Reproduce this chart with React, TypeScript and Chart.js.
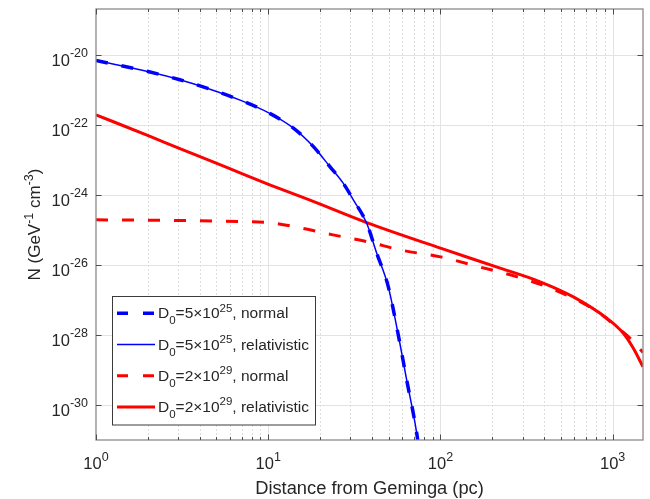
import React, { useEffect, useRef } from 'react';
import { Chart, registerables } from 'chart.js';

Chart.register(...registerables);

// ---- data ----
const blueX = [1, 2.06, 3.07, 4.59, 6.86, 10.2, 14.0, 18.3, 22.8, 27.3, 31.2, 37.3, 42.7, 49.6, 56.7, 63.7, 72.8, 76];
const blueN = [6.92e-21, 3.24e-21, 1.95e-21, 1.05e-21, 5.13e-22, 2.14e-22, 8.13e-23, 2.4e-23, 6.46e-24, 2.14e-24, 7.24e-25, 1.55e-25, 2.14e-26, 2.57e-27, 1.1e-28, 5.13e-30, 1.58e-31, 3.16e-32];

const redRelX = [1, 2.06, 3.07, 4.59, 6.86, 10.2, 17.5, 37.3, 100, 222, 379, 591, 925, 1153, 1318, 1500];
const redRelN = [1.95e-22, 4.68e-23, 2.09e-23, 9.55e-24, 4.27e-24, 1.95e-24, 7.08e-25, 1.62e-25, 3.02e-26, 8.13e-27, 3.31e-27, 1.23e-27, 3.02e-28, 1.12e-28, 4.17e-29, 1.23e-29];

const redNormX = [1, 3, 6.86, 10.2, 15.3, 23.8, 38, 58.3, 100, 170, 279, 433, 673, 850, 1061, 1300, 1500];
const redNormN = [1.95e-25, 1.86e-25, 1.74e-25, 1.62e-25, 1.15e-25, 7.24e-26, 4.57e-26, 2.69e-26, 1.7e-26, 8.71e-27, 4.57e-27, 2.19e-27, 8.13e-28, 3.98e-28, 1.66e-28, 7.08e-29, 3.16e-29];

const xMajorTicks = [1, 10, 100, 1000];
const xTickExp = ['0', '1', '2', '3'];
const yMajorTicks = [1e-20, 1e-22, 1e-24, 1e-26, 1e-28, 1e-30];
const yTickExp = ['-20', '-22', '-24', '-26', '-28', '-30'];

const X_MIN = 1;
const X_MAX = 1500;
const Y_MIN = 1e-31;
const Y_MAX = 2.05e-19;

const BLUE = '#0000ff';
const RED = '#ff0000';
const TEXT = '#262626';
const FONT = '"Liberation Sans", Arial, Helvetica, sans-serif';

type Part = [string, number]; // 0 normal, 1 sup, -1 sub

const legendItems: { parts: Part[]; color: string; width: number; dash: number[] }[] = [
  { parts: [['D', 0], ['0', -1], ['=5×10', 0], ['25', 1], [', normal', 0]], color: BLUE, width: 3.5, dash: [11, 15] },
  { parts: [['D', 0], ['0', -1], ['=5×10', 0], ['25', 1], [', relativistic', 0]], color: BLUE, width: 1.5, dash: [] },
  { parts: [['D', 0], ['0', -1], ['=2×10', 0], ['29', 1], [', normal', 0]], color: RED, width: 3, dash: [11, 15] },
  { parts: [['D', 0], ['0', -1], ['=2×10', 0], ['29', 1], [', relativistic', 0]], color: RED, width: 3, dash: [] },
];

function toPts(xs: number[], ys: number[]) {
  return xs.map((x, i) => ({ x, y: ys[i] }));
}

function rich(
  ctx: CanvasRenderingContext2D,
  parts: Part[],
  x: number,
  y: number,
  align: 'left' | 'center' | 'right',
  size: number,
  small: number,
  supOff: number,
  subOff: number
) {
  const f = (s: number) => `${s}px ${FONT}`;
  const widths = parts.map(([t, k]) => {
    ctx.font = f(k ? small : size);
    return ctx.measureText(t).width;
  });
  const total = widths.reduce((a, b) => a + b, 0);
  let cx = align === 'right' ? x - total : align === 'center' ? x - total / 2 : x;
  ctx.textAlign = 'left';
  ctx.textBaseline = 'alphabetic';
  parts.forEach(([t, k], i) => {
    ctx.font = f(k ? small : size);
    ctx.fillText(t, cx, y + (k === 1 ? -supOff : k === -1 ? subOff : 0));
    cx += widths[i];
  });
}

const framePlugin = {
  id: 'frame',
  beforeDatasetsDraw(chart: any) {
    const { ctx, chartArea: a, scales } = chart;
    const xs = scales.x;
    const ys = scales.y;
    ctx.save();
    // minor x grid (dotted)
    ctx.strokeStyle = '#dedede';
    ctx.lineWidth = 1;
    ctx.setLineDash([2, 2]);
    for (const d of xMajorTicks) {
      for (let m = 2; m <= 9; m++) {
        const v = d * m;
        if (v > X_MAX) continue;
        const px = Math.round(xs.getPixelForValue(v)) + 0.5;
        ctx.beginPath();
        ctx.moveTo(px, a.top);
        ctx.lineTo(px, a.bottom);
        ctx.stroke();
      }
    }
    // major grid
    ctx.setLineDash([]);
    ctx.strokeStyle = '#e3e3e3';
    for (const v of xMajorTicks.slice(1)) {
      const px = Math.round(xs.getPixelForValue(v)) + 0.5;
      ctx.beginPath();
      ctx.moveTo(px, a.top);
      ctx.lineTo(px, a.bottom);
      ctx.stroke();
    }
    for (const v of yMajorTicks) {
      const py = Math.round(ys.getPixelForValue(v)) + 0.5;
      ctx.beginPath();
      ctx.moveTo(a.left, py);
      ctx.lineTo(a.right, py);
      ctx.stroke();
    }
    ctx.restore();
  },
  afterDatasetsDraw(chart: any) {
    const { ctx } = chart;
    ctx.save();
    // legend box
    const lx = 112.5, ly = 296.5, lw = 203, lh = 128.5;
    ctx.fillStyle = '#ffffff';
    ctx.fillRect(lx, ly, lw, lh);
    ctx.strokeStyle = '#3a3a3a';
    ctx.lineWidth = 1;
    ctx.strokeRect(lx, ly, lw, lh);
    legendItems.forEach((it, i) => {
      const cy = 313.3 + i * 31.2;
      ctx.strokeStyle = it.color;
      ctx.lineWidth = it.width;
      ctx.setLineDash(it.dash);
      ctx.beginPath();
      ctx.moveTo(117, cy);
      ctx.lineTo(155, cy);
      ctx.stroke();
      ctx.setLineDash([]);
      ctx.fillStyle = TEXT;
      rich(ctx, it.parts, 158, cy + 5, 'left', 15.5, 11.5, 6.5, 6);
    });
    ctx.restore();
  },
  afterDraw(chart: any) {
    const { ctx, chartArea: a, scales } = chart;
    const xs = scales.x;
    const ys = scales.y;
    ctx.save();
    // axes box
    ctx.strokeStyle = '#8a8a8a';
    ctx.lineWidth = 1.3;
    ctx.strokeRect(a.left, a.top, a.right - a.left, a.bottom - a.top);
    // tick marks (inward)
    ctx.strokeStyle = '#4d4d4d';
    ctx.lineWidth = 1;
    for (const d of xMajorTicks) {
      for (let m = 1; m <= 9; m++) {
        const v = d * m;
        if (v > X_MAX) continue;
        const len = m === 1 ? 5.5 : 3;
        const px = Math.round(xs.getPixelForValue(v)) + 0.5;
        ctx.beginPath();
        ctx.moveTo(px, a.bottom);
        ctx.lineTo(px, a.bottom - len);
        ctx.moveTo(px, a.top);
        ctx.lineTo(px, a.top + len);
        ctx.stroke();
      }
    }
    for (const v of yMajorTicks) {
      const py = Math.round(ys.getPixelForValue(v)) + 0.5;
      ctx.beginPath();
      ctx.moveTo(a.left, py);
      ctx.lineTo(a.left + 5.5, py);
      ctx.moveTo(a.right, py);
      ctx.lineTo(a.right - 5.5, py);
      ctx.stroke();
    }
    // tick labels
    ctx.fillStyle = TEXT;
    xMajorTicks.forEach((v, i) => {
      const px = xs.getPixelForValue(v);
      rich(ctx, [['10', 0], [xTickExp[i], 1]], px, 469, 'center', 16.5, 12.5, 8, 0);
    });
    yMajorTicks.forEach((v, i) => {
      const py = ys.getPixelForValue(v);
      rich(ctx, [['10', 0], [yTickExp[i], 1]], 88, py + 11, 'right', 16.5, 12.5, 9, 0);
    });
    // axis titles
    rich(ctx, [['Distance from Geminga (pc)', 0]], (a.left + a.right) / 2, 494, 'center', 18.3, 12.5, 0, 0);
    ctx.translate(40, (a.top + a.bottom) / 2);
    ctx.rotate(-Math.PI / 2);
    rich(ctx, [['N (GeV', 0], ['-1', 1], [' cm', 0], ['-3', 1], [')', 0]], 0, 0, 'center', 17, 12.5, 7.5, 0);
    ctx.restore();
  },
};

export default function App() {
  const ref = useRef<HTMLCanvasElement | null>(null);
  useEffect(() => {
    if (!ref.current) return;
    const chart = new Chart(ref.current, {
      type: 'line',
      data: {
        datasets: [
          {
            label: 'D0=5×10^25, normal',
            data: toPts(blueX, blueN),
            borderColor: BLUE,
            borderWidth: 3.5,
            borderDash: [12, 14],
            pointRadius: 0,
            cubicInterpolationMode: 'monotone',
            clip: 0,
          },
          {
            label: 'D0=5×10^25, relativistic',
            data: toPts(blueX, blueN),
            borderColor: BLUE,
            borderWidth: 1.5,
            pointRadius: 0,
            cubicInterpolationMode: 'monotone',
            clip: 0,
          },
          {
            label: 'D0=2×10^29, normal',
            data: toPts(redNormX, redNormN),
            borderColor: RED,
            borderWidth: 3,
            borderDash: [12, 14],
            pointRadius: 0,
            cubicInterpolationMode: 'monotone',
            clip: 0,
          },
          {
            label: 'D0=2×10^29, relativistic',
            data: toPts(redRelX, redRelN),
            borderColor: RED,
            borderWidth: 3,
            pointRadius: 0,
            cubicInterpolationMode: 'monotone',
            clip: 0,
          },
        ],
      },
      options: {
        responsive: false,
        animation: false,
        devicePixelRatio: 1,
        layout: { padding: { top: 9, right: 7, left: 0, bottom: 0 } },
        plugins: { legend: { display: false }, tooltip: { enabled: false } },
        events: [],
        scales: {
          x: {
            type: 'logarithmic',
            min: X_MIN,
            max: X_MAX,
            bounds: 'data',
            ticks: { display: false },
            grid: { display: false },
            border: { display: false },
            afterFit: (s: any) => {
              s.height = 59;
            },
          },
          y: {
            type: 'logarithmic',
            min: Y_MIN,
            max: Y_MAX,
            bounds: 'data',
            ticks: { display: false },
            grid: { display: false },
            border: { display: false },
            afterFit: (s: any) => {
              s.width = 96;
            },
          },
        },
      } as any,
      plugins: [framePlugin],
    });
    return () => chart.destroy();
  }, []);
  return (
    <div style={{ position: 'fixed', left: 0, top: 0, width: 650, height: 499, background: '#fff' }}>
      <canvas ref={ref} width={650} height={499} style={{ display: 'block' }} />
    </div>
  );
}
